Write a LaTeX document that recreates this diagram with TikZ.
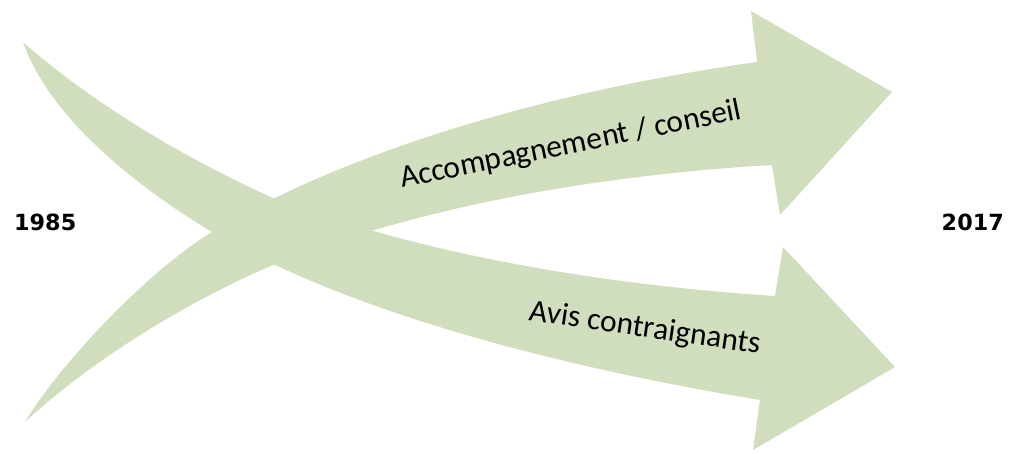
\documentclass[tikz,border=0pt]{standalone}
\usepackage{fontspec}
\newfontfamily\yearfont{DejaVu Sans}
\newfontfamily\arrowfont{Carlito}
\definecolor{arrowgreen}{RGB}{208,222,190}

\begin{document}
\begin{tikzpicture}[x=1pt,y=-1pt]
\tikzstyle{every node}+=[inner sep=0pt]
\tikzstyle{year}=[font=\yearfont\bfseries\fontsize{22.3}{26}\selectfont]
\tikzstyle{arrowtext}=[font=\arrowfont\fontsize{31.5}{36}\selectfont, anchor=base west]
\useasboundingbox (0,0) rectangle (1012,453);
\fill [arrowgreen] (23,42) .. controls (98,108) and (193,162) .. (273,198)
  .. controls (423,255) and (605,285) .. (775,296)
  -- (783,247) -- (895,367) -- (753,450) -- (760,400)
  .. controls (590,372) and (362,320) .. (212,232)
  .. controls (142,190) and (50,120) .. (23,42) -- cycle;
\fill [arrowgreen] (25,422) .. controls (55,371) and (142,275) .. (212,232)
  .. controls (362,142) and (577,87) .. (757,62)
  -- (751,11) -- (892,92) -- (780,215) -- (772,165)
  .. controls (602,175) and (423,205) .. (273,265)
  .. controls (193,299) and (95,357) .. (25,422) -- cycle;
\node (advice) [arrowtext, rotate=11.5] at (402,188) {Accompagnement / conseil};
\node (binding) [arrowtext, rotate=-8.3] at (528,320) {Avis contraignants};
\node (start) [year, anchor=base west] at (14,230) {1985};
\node (end) [year, anchor=base east] at (1004,230) {2017};
\end{tikzpicture}
\end{document}
